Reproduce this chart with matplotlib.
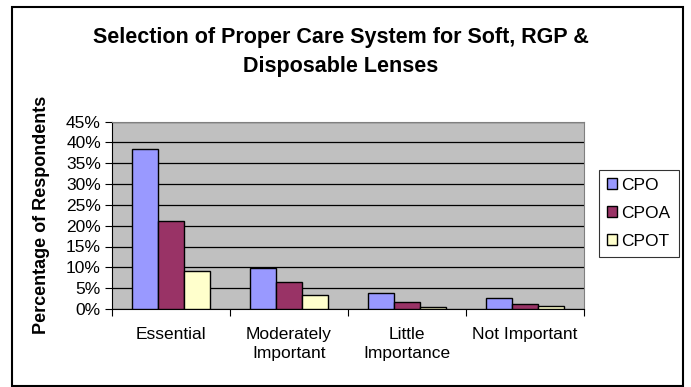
import numpy as np
import matplotlib.pyplot as plt
from matplotlib.patches import Rectangle

plt.rcParams['font.family'] = ['Liberation Sans', 'DejaVu Sans']

# Survey results (fraction of respondents)
categories = ["Essential", "Moderately\nImportant", "Little\nImportance", "Not Important"]
series_names = ["CPO", "CPOA", "CPOT"]
cpo = [0.383, 0.098, 0.038, 0.027]
cpoa = [0.211, 0.064, 0.018, 0.011]
cpot = [0.091, 0.034, 0.004, 0.007]
colors = ["#9999FF", "#993366", "#FFFFCC"]
y_ticks = np.arange(0, 0.46, 0.05)

fig = plt.figure(figsize=(6.91, 3.87), dpi=100)

# Outer chart border
fig.patches.append(Rectangle((12 / 691, 1 / 387), 671 / 691, 379 / 387,
                             transform=fig.transFigure, fill=False,
                             edgecolor="black", linewidth=1.5))

ax = fig.add_axes([112 / 691, 1 - 309 / 387, 472 / 691, 187.5 / 387])
ax.set_facecolor("#C0C0C0")

x = np.arange(len(categories))
w = 0.22
for i, (vals, name) in enumerate(zip([cpo, cpoa, cpot], series_names)):
    ax.bar(x + (i - 1) * w, vals, width=w, color=colors[i],
           edgecolor="black", linewidth=1, label=name, zorder=3)

ax.set_xlim(-0.5, len(categories) - 0.5)
ax.set_ylim(0, 0.45)
ax.set_yticks(y_ticks)
ax.set_yticklabels([f"{int(round(t * 100))}%" for t in y_ticks], fontsize=12.5)
ax.yaxis.grid(True, color="black", linewidth=0.9, zorder=1)
ax.set_axisbelow(True)

# category labels centered, ticks on the boundaries
ax.set_xticks(np.arange(-0.5, len(categories), 1))
ax.set_xticklabels([])
ax.set_xticks(x, minor=True)
ax.set_xticklabels(categories, minor=True, fontsize=12.5, linespacing=1.3)
ax.tick_params(axis="x", which="minor", length=0, pad=13)
ax.tick_params(axis="x", which="major", length=5, direction="out", color="black")
ax.tick_params(axis="y", length=5, direction="out", color="black", pad=3)

for s in ["top", "right"]:
    ax.spines[s].set_color("#808080")
for s in ["left", "bottom"]:
    ax.spines[s].set_color("black")

ax.set_ylabel("Percentage of Respondents", fontsize=13, fontweight="bold")
ax.yaxis.set_label_coords(-(112 - 50) / 472, 0.5)

fig.text(341 / 691, 1 - 52 / 387,
         "Selection of Proper Care System for Soft, RGP &\nDisposable Lenses",
         ha="center", va="center", fontsize=15.5, fontweight="bold", linespacing=1.45)

leg = fig.legend(loc="upper left", bbox_to_anchor=(599 / 691, 1 - 170 / 387),
                 fontsize=12.5, frameon=True, fancybox=False, edgecolor="black",
                 handlelength=0.6, handleheight=0.6, handletextpad=0.25,
                 labelspacing=0.75, borderpad=0.45, borderaxespad=0)
leg.get_frame().set_linewidth(0.8)

fig.savefig("out.png", dpi=100)
